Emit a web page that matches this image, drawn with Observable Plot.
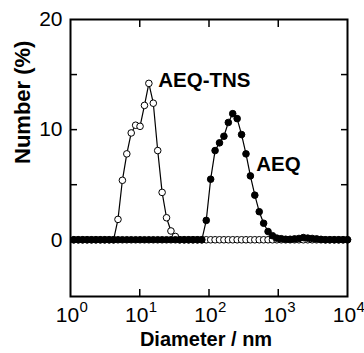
<!DOCTYPE html>
<html><head><meta charset="utf-8">
<script src="https://cdn.jsdelivr.net/npm/d3@7"></script>
<script src="https://cdn.jsdelivr.net/npm/@observablehq/plot@0.6"></script>
<style>body{margin:0;background:#fff} svg{display:block}</style>
</head><body><div id="chart"></div>
<script>
// Size bins (nm)
const diameters = [1.117, 1.294, 1.499, 1.736, 2.010, 2.328, 2.696, 3.122, 3.615, 4.187,
  4.849, 5.615, 6.503, 7.531, 8.721, 10.10, 11.70, 13.54, 15.69, 18.17,
  21.04, 24.36, 28.21, 32.67, 37.84, 43.82, 50.75, 58.77, 68.06, 78.82,
  91.28, 105.7, 122.4, 141.8, 164.2, 190.1, 220.2, 255.0, 295.3, 342.0,
  396.1, 458.7, 531.2, 615.1, 712.4, 825.0, 955.4, 1106, 1281, 1484,
  1718, 1990, 2305, 2669, 3091, 3580, 4145, 4801, 5560, 6439,
  7456, 8635, 10000];
// Number (%) — AEQ-TNS (open circles)
const aeqTns = [0, 0, 0, 0, 0, 0, 0, 0, 0, 0,
  1.85, 5.4, 7.8, 9.7, 10.4, 10.3, 12.2, 14.2, 12.4, 8.1,
  4.3, 2.0, 0.8, 0.3, 0, 0, 0, 0, 0, 0,
  0, 0, 0, 0, 0, 0, 0, 0, 0, 0,
  0, 0, 0, 0, 0, 0, 0, 0, 0, 0,
  0, 0, 0, 0, 0, 0, 0, 0, 0, 0,
  0, 0, 0];
// Number (%) — AEQ (filled circles)
const aeq = [0, 0, 0, 0, 0, 0, 0, 0, 0, 0,
  0, 0, 0, 0, 0, 0, 0, 0, 0, 0,
  0, 0, 0, 0, 0, 0, 0, 0, 0, 0,
  1.76, 5.5, 8.1, 8.8, 9.4, 10.65, 11.45, 11.0, 9.55, 7.8,
  5.8, 4.05, 2.55, 1.5, 0.75, 0.37, 0.15, 0.1, 0.05, 0.05,
  0.08, 0.12, 0.2, 0.15, 0.12, 0.08, 0.04, 0, 0, 0,
  0, 0, 0];

const xTickValues = [1, 10, 100, 1000, 10000];
const xInnerTicks = [10, 100, 1000];
const yTickLabels = [0, 10, 20];
const yInnerTicks = [0, 5, 10, 15];
const seriesNames = ["AEQ-TNS", "AEQ"];
const seriesLabelX = [18.5, 480];
const seriesLabelY = [14.5, 6.8];
const xTitle = "Diameter / nm";
const yTitle = "Number (%)";

const rowsTns = diameters.map((d, i) => ({d, v: aeqTns[i]}));
const rowsAeq = diameters.map((d, i) => ({d, v: aeq[i]}));
const labels = seriesNames.map((name, i) => ({name, x: seriesLabelX[i], y: seriesLabelY[i]}));

const font = "'Liberation Sans', Arial, Helvetica, sans-serif";

const chart = Plot.plot({
  width: 364, height: 353,
  marginLeft: 70, marginRight: 17, marginTop: 19, marginBottom: 57,
  style: {fontFamily: font, background: "white", color: "black", overflow: "visible"},
  x: {type: "log", domain: [1, 10000], label: null},
  y: {domain: [-5.15, 20], label: null},
  marks: [
    Plot.line(rowsTns, {x: "d", y: "v", stroke: "black", strokeWidth: 1.2}),
    Plot.dot(rowsTns, {x: "d", y: "v", r: 3.3, fill: "white", stroke: "black", strokeWidth: 1}),
    Plot.line(rowsAeq, {x: "d", y: "v", stroke: "black", strokeWidth: 1.2}),
    Plot.dot(rowsAeq, {x: "d", y: "v", r: 3.3, fill: "black", stroke: "black", strokeWidth: 1}),
    Plot.frame({stroke: "black", strokeWidth: 2}),
    Plot.axisX(xInnerTicks, {anchor: "bottom", tickSize: 7, dy: -7, text: null, label: null, strokeWidth: 1.5}),
    Plot.axisX(xInnerTicks, {anchor: "top", tickSize: 7, dy: 7, text: null, label: null, strokeWidth: 1.5}),
    Plot.axisY(yInnerTicks, {anchor: "left", tickSize: 7, dx: 7, text: null, label: null, strokeWidth: 1.5}),
    Plot.axisY(yInnerTicks, {anchor: "right", tickSize: 7, dx: -7, text: null, label: null, strokeWidth: 1.5}),
    Plot.axisX(xTickValues, {anchor: "bottom", tickSize: 0, tickPadding: 11, tickFormat: () => "10", fontSize: 21, dx: -3, label: null}),
    Plot.axisX(xTickValues, {anchor: "bottom", tickSize: 0, tickPadding: 5, tickFormat: d => String(Math.round(Math.log10(d))), fontSize: 15, textAnchor: "start", dx: 9, label: null}),
    Plot.axisY(yTickLabels, {anchor: "left", tickSize: 0, tickPadding: 8, fontSize: 21, label: null}),
    Plot.text([yTitle], {frameAnchor: "left", dx: -48, dy: 6, rotate: -90, fontSize: 22, fontWeight: "bold"}),
    Plot.text([xTitle], {frameAnchor: "bottom", dy: 49, dx: -3, fontSize: 20, fontWeight: "bold"}),
    Plot.text(labels, {x: "x", y: "y", text: "name", textAnchor: "start", fontSize: 20.5, fontWeight: "bold"})
  ]
});
document.getElementById("chart").appendChild(chart);
</script>
</body></html>
